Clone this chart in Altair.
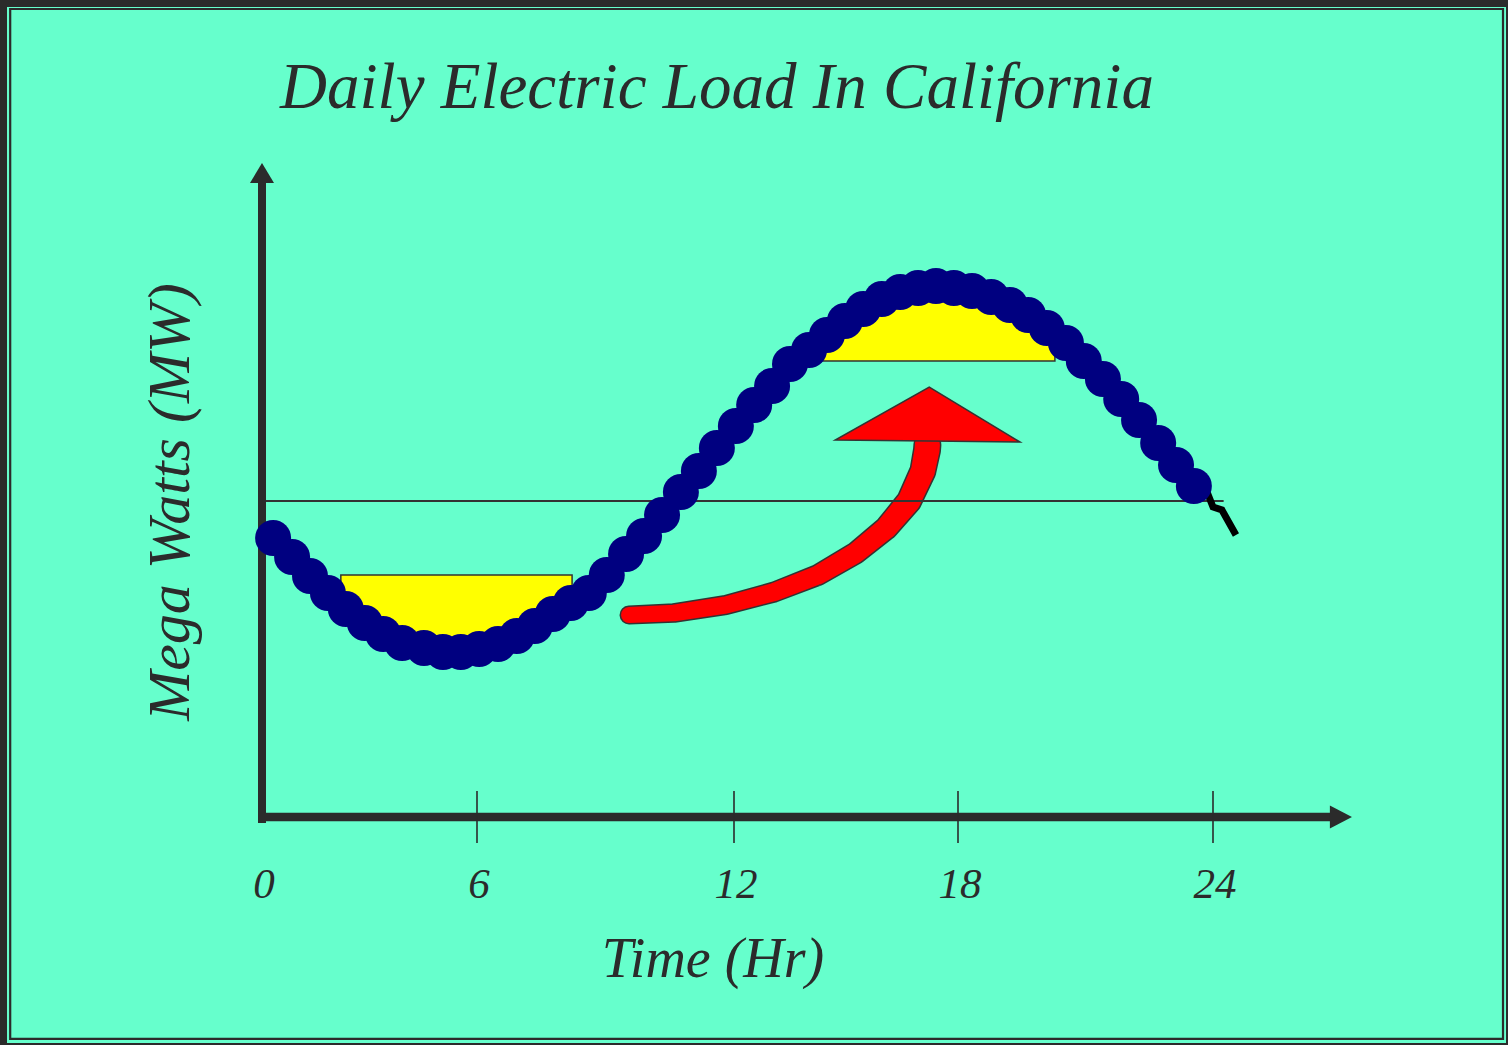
import altair as alt
import pandas as pd

# ---- values (hours, load in arbitrary MW units) ----
hours = [0.31, 0.84, 1.34, 1.84, 2.34, 2.87, 3.38, 3.91, 4.52, 5.05,
         5.55, 6.05, 6.49, 6.93, 7.35, 7.77, 8.19, 8.61, 9.03, 9.48,
         9.90, 10.32, 10.76, 11.18, 11.60, 12.05, 12.54, 13.02, 13.50, 14.01,
         14.49, 14.97, 15.46, 15.96, 16.45, 16.93, 17.41, 17.89, 18.33, 18.78,
         19.22, 19.65, 20.09, 20.54, 20.96, 21.41, 21.84, 22.26, 22.71, 23.13,
         23.55]
load = [27.9, 26.0, 24.1, 22.4, 20.8, 19.4, 18.3, 17.4, 16.9, 16.5,
        16.5, 16.8, 17.3, 18.1, 19.1, 20.3, 21.4, 22.4, 24.2, 26.3,
        28.1, 30.2, 32.5, 34.6, 36.9, 39.1, 41.2, 43.1, 45.3, 46.7,
        48.2, 49.6, 50.8, 51.8, 52.5, 52.9, 53.1, 52.9, 52.6, 52.0,
        51.2, 50.2, 48.9, 47.4, 45.6, 43.8, 41.8, 39.7, 37.4, 35.2,
        33.1]

# off-peak valley (yellow, lower)
valley_hours = [2.20, 2.34, 2.87, 3.38, 3.91, 4.52, 5.05, 5.55, 6.05, 6.49, 6.93, 7.35, 7.77, 8.19, 8.22]
valley_floor = [21.1, 20.8, 19.4, 18.3, 17.4, 16.9, 16.5, 16.5, 16.8, 17.3, 18.1, 19.1, 20.3, 21.4, 21.5]
valley_level = 24.2

# on-peak cap (yellow, upper)
peak_hours = [14.36, 14.49, 14.97, 15.46, 15.96, 16.45, 16.93, 17.41, 17.89, 18.33, 18.78, 19.22, 19.65, 20.09, 20.28]
peak_cap = [47.8, 48.2, 49.6, 50.8, 51.8, 52.5, 52.9, 53.1, 52.9, 52.6, 52.0, 51.2, 50.2, 48.9, 48.3]
peak_level = 45.6

# average load line
avg_level = 31.6
avg_span = [0, 24.25]

# red shifting arrow (centre line, width)
shaft_hours = [9.55, 10.60, 11.81, 13.08, 14.25, 15.26, 16.08, 16.69, 17.06, 17.17, 17.18]
shaft_load = [20.2, 20.4, 21.2, 22.5, 24.2, 26.4, 28.9, 31.6, 34.6, 36.7, 37.2]
shaft_width = [16, 16.5, 17, 18, 19, 20, 21.5, 23, 24, 25, 25]
head_hours = [14.71, 17.23, 19.46]
head_base = [37.7, 37.6, 37.5]
head_tip = [37.7, 43.0, 37.5]

# black squiggle at the end of the curve
squig_hours = [23.86, 24.0, 24.21, 24.54]
squig_load = [32.5, 31.0, 30.7, 28.2]

# axes
tick_hours = [6, 12, 18, 24]
label_hours = [0, 6, 12, 18, 24]
tick_labels = ["0", "6", "12", "18", "24"]
x_axis_span = [-0.08, 26.80]
x_arrow_hours = [26.75, 27.27]
x_arrow_low = [-1.15, 0.0]
x_arrow_high = [1.15, 0.0]
y_axis_span = [-0.6, 63.6]
y_arrow_hours = [-0.335, 0.0, 0.335]
y_arrow_base = [63.4, 63.4, 63.4]
y_arrow_tip = [63.4, 65.4, 63.4]

title_text = "Daily Electric Load In California"
x_title = "Time (Hr)"
y_title = "Mega Watts (MW)"

# ---- styling ----
BG = "#66FFCC"
DARK = "#2b2b2b"
NAVY = "#000080"
FONT = "Liberation Serif"

X = alt.Scale(domain=[0, 6, 12, 18, 24], range=[262, 477, 734, 958, 1213], nice=False, zero=False)
Y = alt.Scale(domain=[0, 65], range=[817, 167], nice=False, zero=False)


def xe(f):
    return alt.X(f, type="quantitative", scale=X, axis=None)


def ye(f):
    return alt.Y(f, type="quantitative", scale=Y, axis=None)


one = pd.DataFrame({"k": [0]})

frame_outer = alt.Chart(one).mark_rect(fill="transparent", stroke=DARK, strokeWidth=7).encode(
    x=alt.value(3.5), x2=alt.value(1509.5), y=alt.value(3.5), y2=alt.value(1046.5))
frame_inner = alt.Chart(one).mark_rect(fill="transparent", stroke=DARK, strokeWidth=2.2).encode(
    x=alt.value(10.2), x2=alt.value(1503), y=alt.value(9), y2=alt.value(1038.8))

valley_df = pd.DataFrame({"h": valley_hours, "floor": valley_floor, "top": [valley_level] * len(valley_hours)})
valley = alt.Chart(valley_df).mark_area(fill="#FFFF00", stroke="#333333", strokeWidth=1.5, opacity=1).encode(
    x=xe("h"), y=ye("top"), y2="floor:Q")

peak_df = pd.DataFrame({"h": peak_hours, "cap": peak_cap, "base": [peak_level] * len(peak_hours)})
peak = alt.Chart(peak_df).mark_area(fill="#FFFF00", stroke="#333333", strokeWidth=1.5, opacity=1).encode(
    x=xe("h"), y=ye("base"), y2="cap:Q")

shaft_df = pd.DataFrame({"h": shaft_hours, "v": shaft_load, "w": shaft_width,
                         "o": list(range(len(shaft_hours)))})
shaft_outline = alt.Chart(shaft_df).mark_trail(color="#333333", opacity=1).encode(
    x=xe("h"), y=ye("v"), order="o:Q",
    size=alt.Size("w:Q", scale=alt.Scale(domain=[16, 25], range=[19, 28], zero=False), legend=None))
shaft = alt.Chart(shaft_df).mark_trail(color="#FF0000", opacity=1).encode(
    x=xe("h"), y=ye("v"), order="o:Q",
    size=alt.Size("w:Q", scale=alt.Scale(domain=[16, 25], range=[16, 25], zero=False), legend=None))

head_df = pd.DataFrame({"h": head_hours, "base": head_base, "tip": head_tip})
head = alt.Chart(head_df).mark_area(fill="#FF0000", stroke="#333333", strokeWidth=1.5, opacity=1).encode(
    x=xe("h"), y=ye("base"), y2="tip:Q")

avg_df = pd.DataFrame({"a": [avg_span[0]], "b": [avg_span[1]], "v": [avg_level]})
avg_line = alt.Chart(avg_df).mark_rule(color="#333333", strokeWidth=2).encode(
    x=xe("a"), x2="b:Q", y=ye("v"))

xaxis_df = pd.DataFrame({"a": [x_axis_span[0]], "b": [x_axis_span[1]], "v": [0]})
x_axis = alt.Chart(xaxis_df).mark_rule(color=DARK, strokeWidth=8.5).encode(
    x=xe("a"), x2="b:Q", y=ye("v"))
xarrow_df = pd.DataFrame({"h": x_arrow_hours, "lo": x_arrow_low, "hi": x_arrow_high})
x_arrow = alt.Chart(xarrow_df).mark_area(fill=DARK, opacity=1).encode(
    x=xe("h"), y=ye("lo"), y2="hi:Q")

yaxis_df = pd.DataFrame({"h": [0], "a": [y_axis_span[0]], "b": [y_axis_span[1]]})
y_axis = alt.Chart(yaxis_df).mark_rule(color=DARK, strokeWidth=8).encode(
    x=xe("h"), y=ye("a"), y2="b:Q")
yarrow_df = pd.DataFrame({"h": y_arrow_hours, "base": y_arrow_base, "tip": y_arrow_tip})
y_arrow = alt.Chart(yarrow_df).mark_area(fill=DARK, opacity=1).encode(
    x=xe("h"), y=ye("base"), y2="tip:Q")

ticks_df = pd.DataFrame({"h": tick_hours, "a": [-2.6] * len(tick_hours), "b": [2.6] * len(tick_hours)})
ticks = alt.Chart(ticks_df).mark_rule(color=DARK, strokeWidth=1.6).encode(
    x=xe("h"), y=ye("a"), y2="b:Q")

labels_df = pd.DataFrame({"h": label_hours, "t": tick_labels, "v": [-8.1] * len(label_hours)})
labels = alt.Chart(labels_df).mark_text(font=FONT, fontStyle="italic", fontSize=43, color=DARK,
                                        align="center", baseline="alphabetic", dx=2).encode(
    x=xe("h"), y=ye("v"), text="t:N")

squig_df = pd.DataFrame({"h": squig_hours, "v": squig_load, "o": list(range(len(squig_hours)))})
squig = alt.Chart(squig_df).mark_line(color="#000000", strokeWidth=7, strokeJoin="miter").encode(
    x=xe("h"), y=ye("v"), order="o:Q")

curve_df = pd.DataFrame({"h": hours, "v": load})
dots = alt.Chart(curve_df).mark_circle(size=1296, color=NAVY, opacity=1).encode(
    x=xe("h"), y=ye("v"))

title = alt.Chart(one).mark_text(font=FONT, fontStyle="italic", fontSize=65, color=DARK,
                                 align="center", baseline="alphabetic", text=title_text).encode(
    x=alt.value(717), y=alt.value(108))
xtitle = alt.Chart(one).mark_text(font=FONT, fontStyle="italic", fontSize=56, color=DARK,
                                  align="center", baseline="alphabetic", text=x_title).encode(
    x=alt.value(713), y=alt.value(977))
ytitle = alt.Chart(one).mark_text(font=FONT, fontStyle="italic", fontSize=60, color=DARK,
                                  align="center", baseline="alphabetic", angle=270, text=y_title).encode(
    x=alt.value(189), y=alt.value(502))

chart = alt.layer(
    frame_outer, frame_inner, valley, peak, shaft_outline, shaft, head, avg_line,
    x_axis, x_arrow, y_axis, y_arrow, ticks, squig, dots, labels, title, xtitle, ytitle
).resolve_scale(size="independent").properties(
    width=1508, height=1045, padding=0, background=BG,
    autosize=alt.AutoSizeParams(type="none")
).configure_view(strokeWidth=0, fill=BG)

chart.save("out.html", embed_options={"renderer": "svg", "actions": False})
